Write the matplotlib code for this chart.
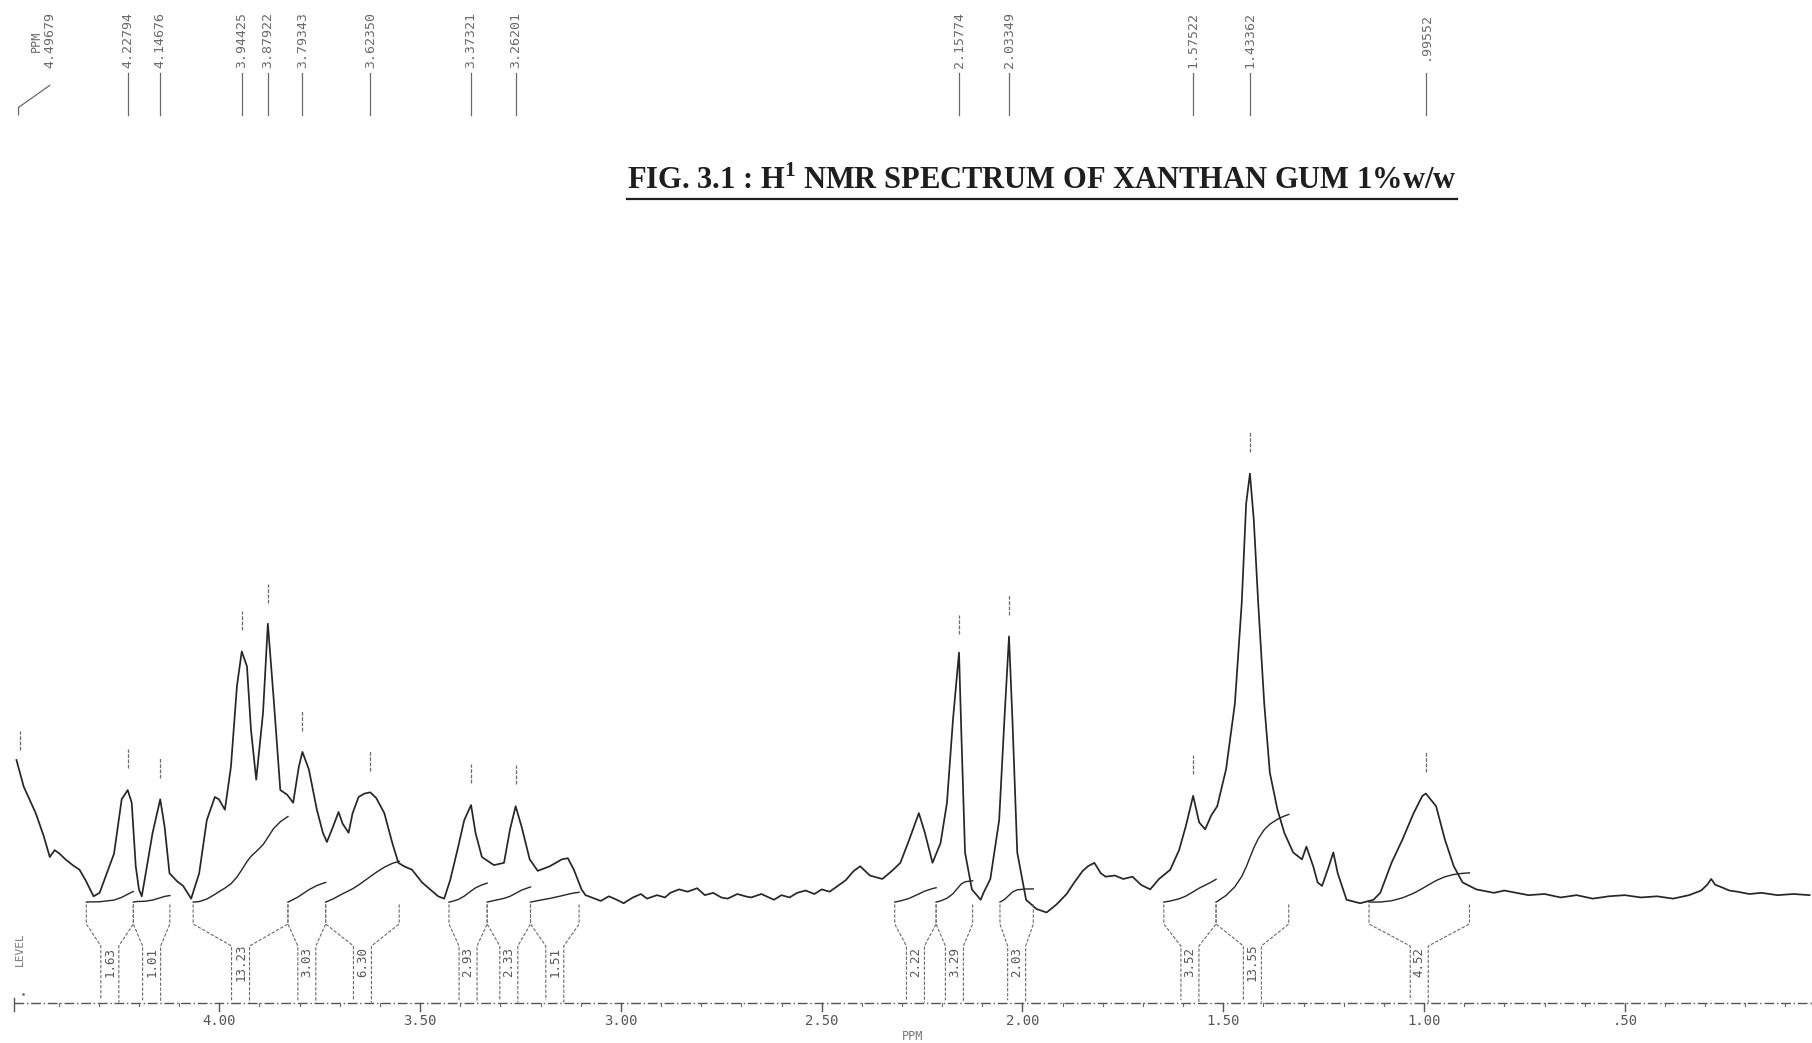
import numpy as np
import matplotlib
matplotlib.use('Agg')
import matplotlib.pyplot as plt
from matplotlib.lines import Line2D

plt.rcParams['mathtext.fontset'] = 'custom'
plt.rcParams['mathtext.rm'] = 'Liberation Serif:bold'
plt.rcParams['mathtext.bf'] = 'Liberation Serif:bold'

# Spectrum trace: chemical shift (ppm) and intensity (a.u., baseline = 0)
shift_ppm = [
    4.505, 4.487, 4.457, 4.437, 4.422, 4.410, 4.398, 4.383, 4.365, 4.348, 4.333, 4.313,
    4.298, 4.262, 4.243, 4.228, 4.218, 4.208, 4.200, 4.193, 4.186, 4.166, 4.147, 4.136,
    4.124, 4.105, 4.090, 4.070, 4.050, 4.031, 4.011, 4.001, 3.986, 3.971, 3.956, 3.944,
    3.931, 3.921, 3.908, 3.891, 3.879, 3.865, 3.848, 3.831, 3.816, 3.802, 3.793, 3.777,
    3.757, 3.742, 3.732, 3.717, 3.703, 3.693, 3.678, 3.668, 3.653, 3.638, 3.624, 3.609,
    3.589, 3.569, 3.554, 3.540, 3.520, 3.495, 3.475, 3.455, 3.440, 3.425, 3.405, 3.390,
    3.373, 3.362, 3.346, 3.316, 3.291, 3.276, 3.262, 3.247, 3.227, 3.207, 3.177, 3.147,
    3.132, 3.117, 3.098, 3.088,
    3.065, 3.050, 3.030, 3.010, 2.993, 2.970, 2.950, 2.935, 2.910, 2.890, 2.877, 2.855,
    2.834, 2.810, 2.791, 2.770, 2.750, 2.734, 2.710, 2.690, 2.676, 2.650, 2.619, 2.600,
    2.580, 2.561, 2.540, 2.518, 2.500, 2.480,
    2.460, 2.440, 2.420, 2.404, 2.380, 2.349, 2.325, 2.304, 2.282, 2.258, 2.243, 2.224,
    2.204, 2.188, 2.173, 2.158, 2.152, 2.143, 2.126, 2.104, 2.097, 2.080, 2.058, 2.045,
    2.0335, 2.025, 2.013, 1.991, 1.965, 1.940, 1.915, 1.890, 1.871, 1.850, 1.837, 1.821,
    1.805, 1.793, 1.770, 1.749, 1.726, 1.705, 1.682, 1.660, 1.632, 1.610, 1.593, 1.575,
    1.560, 1.545, 1.530, 1.515, 1.493, 1.471, 1.454, 1.443, 1.4336, 1.424, 1.413, 1.398,
    1.384, 1.365, 1.348, 1.326, 1.304, 1.293, 1.276, 1.265, 1.254, 1.237, 1.226, 1.215,
    1.193, 1.159, 1.126, 1.109, 1.081, 1.054, 1.026, 1.004, 0.9955, 0.970, 0.948, 0.926,
    0.904, 0.870, 0.826, 0.800, 0.770, 0.740, 0.700, 0.660, 0.620, 0.580, 0.540, 0.500,
    0.460, 0.420, 0.380, 0.340, 0.310, 0.295, 0.285, 0.275, 0.260, 0.240, 0.220, 0.190,
    0.160, 0.120, 0.080, 0.040,
]
intensity = [
    118, 95, 72, 52, 34, 40, 37, 32, 27, 23, 14, 0,
    3, 37, 84, 92, 81, 26, 6, 0, 14, 55, 84, 60,
    20, 13, 9, -2, 20, 66, 86, 84, 75, 112, 182, 212,
    199, 144, 101, 159, 236, 173, 92, 88, 81, 112, 125, 110,
    75, 55, 47, 60, 73, 63, 55, 72, 86, 89, 90, 85,
    72, 46, 29, 26, 23, 12, 6, 0, -2, 14, 43, 66,
    79, 55, 34, 27, 29, 58, 78, 60, 32, 22, 26, 32,
    33, 23, 6, 1,
    -2, -4, 0, -3, -6, -1, 2, -2, 1, -1, 3, 6,
    4, 7, 1, 3, -1, -2, 2, 0, -1, 2, -3, 1,
    -1, 3, 5, 2, 6, 4,
    9, 14, 22, 26, 18, 15, 22, 29, 49, 72, 55, 29,
    46, 81, 153, 211, 139, 38, 6, -3, 3, 15, 66, 153,
    225, 153, 38, -3, -11, -14, -7, 2, 12, 22, 26, 29,
    20, 17, 18, 15, 17, 10, 6, 15, 23, 40, 61, 87,
    64, 58, 70, 78, 110, 167, 254, 340, 366, 326, 254, 167,
    107, 75, 55, 38, 32, 43, 26, 12, 9, 26, 38, 20,
    -3, -6, -3, 3, 29, 49, 72, 87, 89, 78, 49, 26,
    12, 6, 3, 5, 3, 1, 2, -1, 1, -2, 0, 1,
    -1, 0, -2, 1, 5, 10, 15, 10, 8, 5, 4, 2,
    3, 1, 2, 1,
]

# Peak picks printed along the top
peak_ppm = [4.49679, 4.22794, 4.14676, 3.94425, 3.87922, 3.79343, 3.62350,
            3.37321, 3.26201, 2.15774, 2.03349, 1.57522, 1.43362, 0.99552]
peak_text = ["4.49679", "4.22794", "4.14676", "3.94425", "3.87922", "3.79343", "3.62350",
             "3.37321", "3.26201", "2.15774", "2.03349", "1.57522", "1.43362", ".99552"]

# Integral regions (ppm from, ppm to) and printed integral values
integ_from = [4.331, 4.214, 4.065, 3.829, 3.735, 3.428, 3.333, 3.225,
              2.318, 2.215, 2.056, 1.648, 1.518, 1.137]
integ_to = [4.214, 4.123, 3.829, 3.735, 3.552, 3.333, 3.225, 3.104,
            2.215, 2.124, 1.973, 1.518, 1.337, 0.887]
integ_value = [1.63, 1.01, 13.23, 3.03, 6.30, 2.93, 2.33, 1.51,
               2.22, 3.29, 2.03, 3.52, 13.55, 4.52]

axis_ticks = [4.0, 3.5, 3.0, 2.5, 2.0, 1.5, 1.0, 0.5]
axis_labels = ["4.00", "3.50", "3.00", "2.50", "2.00", "1.50", "1.00", ".50"]

INK = '#262626'
GREY = '#6a6a6a'
MONO = 'DejaVu Sans Mono'


def integral_curve(ppm, inten, p0, p1, value, scale=5.6, offset=-5):
    # running area of the trace between p0 and p1, scaled to the printed value
    inside = (ppm < p0) & (ppm > p1)
    xs = np.concatenate([[p0], ppm[inside], [p1]])
    ys = np.interp(xs, ppm[::-1], inten[::-1])
    h = np.clip(ys, 0, None)
    area = np.concatenate([[0], np.cumsum(0.5 * (h[1:] + h[:-1]) * np.abs(np.diff(xs)))])
    return xs, offset + area / area[-1] * value * scale


def main():
    fig = plt.figure(figsize=(18.12, 10.43), dpi=100)
    fig.patch.set_facecolor('white')
    ax = fig.add_axes([0, 0, 1, 1])
    ax.set_xlim(4.546, 0.034)
    ax.set_ylim(-127, 776)
    ax.axis('off')

    ppm = np.array(shift_ppm)
    inten = np.array(intensity, dtype=float)

    # Spectrum
    ax.plot(ppm, inten, color=INK, lw=1.25)

    # Peak markers above the peaks and peak list at the top
    for p, txt in zip(peak_ppm, peak_text):
        top = np.interp(p, ppm[::-1], inten[::-1])
        ax.plot([p, p], [top + 19, top + 36], color=GREY, lw=0.9, ls=(0, (3, 1.2)))
        if txt == "4.49679":
            tx = 4.4225
            ax.plot([tx, p + 0.003, p + 0.003], [702, 683, 676.5], color=GREY, lw=0.9)
            ax.text(4.456, 740, "PPM", rotation=90, ha='center', va='center',
                    family=MONO, fontsize=8.5, color=GREY)
        else:
            tx = p
            ax.plot([p, p], [713, 676.5], color=GREY, lw=0.9)
        ax.text(tx, 766, txt, rotation=90, ha='center', va='top',
                family=MONO, fontsize=9.5, color=GREY)

    # Integrals with their brackets and values
    hw = 0.0224
    for p0, p1, v in zip(integ_from, integ_to, integ_value):
        xs, curve = integral_curve(ppm, inten, p0, p1, v)
        ax.plot(xs, curve, color=INK, lw=1.0)
        xc = (p0 + p1) / 2
        ax.plot([p0, p0, xc + hw, xc + hw], [-7, -24, -43, -90],
                color=GREY, lw=0.8, ls=(0, (3, 1.5)))
        ax.plot([p1, p1, xc - hw, xc - hw], [-7, -24, -43, -92],
                color=GREY, lw=0.8, ls=(0, (3, 1.5)))
        ax.text(xc, -57, f"{v:.2f}", rotation=90, ha='center', va='center',
                family=MONO, fontsize=9, color='#555555')

    # Chart-paper axis
    ax.plot([4.511, 0.034], [-92, -92], color='#555555', lw=1.0, ls=(0, (7, 2, 1, 2)))
    ax.plot([4.511, 4.511], [-88, -99], color='#555555', lw=1.0)
    for m in np.arange(4.4, 0.05, -0.1):
        ax.plot([m, m], [-92, -95], color='#666666', lw=0.8)
    for t, lab in zip(axis_ticks, axis_labels):
        ax.plot([t, t], [-92, -99], color='#555555', lw=1.0)
        ax.text(t, -108, lab, ha='center', va='center', family=MONO,
                fontsize=10, color='#555555')
    ax.text(2.273, -121, "PPM", ha='center', va='center', family=MONO,
            fontsize=8.5, color='#777777')
    ax.text(4.496, -46, "LEVEL", rotation=90, ha='center', va='center',
            family=MONO, fontsize=8, color='#777777')
    ax.plot([4.489], [-85], marker='.', ms=2, color='#777777')

    # Title, underlined
    title = fig.text(0.575, 0.8265,
                     r'FIG. 3.1 : H$^{1}$ NMR SPECTRUM OF XANTHAN GUM 1%w/w',
                     ha='center', va='center', fontsize=22, fontweight='bold',
                     family='Liberation Serif', color='#1e1e1e')
    fig.canvas.draw()
    bb = title.get_window_extent()
    W, H = fig.bbox.width, fig.bbox.height
    fig.add_artist(Line2D([bb.x0 / W, bb.x1 / W], [(bb.y0 - 3) / H] * 2,
                          transform=fig.transFigure, color='#1e1e1e', lw=1.6))

    fig.savefig('out.png', dpi=100, facecolor='white')


if __name__ == '__main__':
    main()
